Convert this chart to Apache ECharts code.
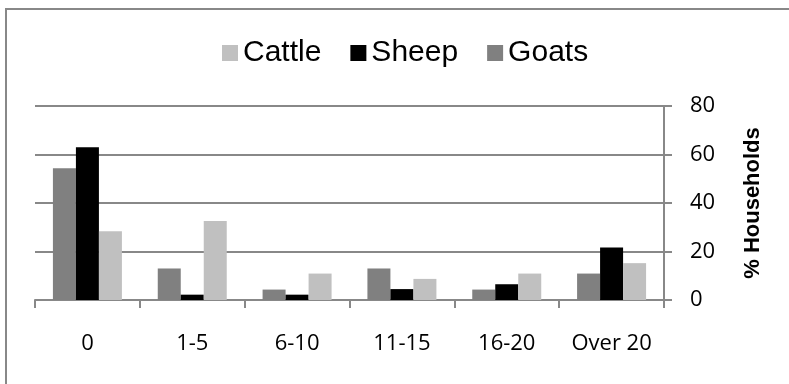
<!DOCTYPE html>
<html lang="en">
<head>
    <meta charset="UTF-8">
    <title>Livestock ownership</title>
    <script src="https://cdn.jsdelivr.net/npm/echarts@6/dist/echarts.min.js"></script>
    <style>
        html, body { margin: 0; padding: 0; background: #fff; }
        .chart { width: 789px; height: 384px; }
    </style>
</head>
<body>
<div class="chart"></div>

<script>
    // herd size groups
    const categories = ['0', '1-5', '6-10', '11-15', '16-20', 'Over 20'];

    // % of households per group
    const goats = [54.3, 13.0, 4.3, 13.0, 4.3, 10.9];
    const sheep = [63.0, 2.2, 2.2, 4.5, 6.5, 21.7];
    const cattle = [28.3, 32.6, 10.9, 8.7, 10.9, 15.2];

    const legendOrder = ['Cattle', 'Sheep', 'Goats'];

    let chart = echarts.init(document.querySelector('.chart'));

    const lineColor = '#888888';
    const labelFont = '"Open Sans", sans-serif';

    chart.setOption({
        backgroundColor: '#ffffff',
        animation: false,
        graphic: [
            {
                // outer frame, only left and top edges fall inside the picture
                type: 'rect',
                shape: { x: 6, y: 9, width: 820, height: 420 },
                style: { fill: 'none', stroke: lineColor, lineWidth: 2 }
            }
        ],
        legend: {
            data: legendOrder,
            left: 217,
            top: 33,
            itemWidth: 16,
            itemHeight: 16,
            itemGap: 29,
            icon: 'rect',
            textStyle: {
                fontFamily: '"Liberation Sans", Arial, sans-serif',
                fontSize: 30,
                color: '#000'
            }
        },
        grid: {
            left: 35,
            right: 125,
            top: 106,
            bottom: 84
        },
        xAxis: {
            type: 'category',
            data: categories,
            axisLine: { lineStyle: { color: lineColor, width: 2 } },
            axisTick: { show: true, length: 8, lineStyle: { color: lineColor, width: 2 } },
            axisLabel: {
                margin: 33,
                fontFamily: labelFont,
                fontSize: 22,
                color: '#000'
            }
        },
        yAxis: {
            type: 'value',
            position: 'right',
            min: 0,
            max: 80,
            interval: 20,
            name: '% Households',
            nameLocation: 'middle',
            nameRotate: 90,
            nameGap: 78,
            nameTextStyle: {
                fontFamily: '"Liberation Sans", Arial, sans-serif',
                fontWeight: 'bold',
                fontSize: 22,
                color: '#000'
            },
            axisLine: { show: true, lineStyle: { color: lineColor, width: 2 } },
            axisTick: { show: true, length: 8, lineStyle: { color: lineColor, width: 2 } },
            axisLabel: {
                margin: 26,
                fontFamily: labelFont,
                fontSize: 22,
                color: '#000'
            },
            splitLine: { lineStyle: { color: lineColor, width: 2 } }
        },
        series: [
            {
                name: 'Goats',
                type: 'bar',
                barWidth: 23,
                barGap: '0%',
                itemStyle: { color: '#808080' },
                data: goats
            },
            {
                name: 'Sheep',
                type: 'bar',
                barWidth: 23,
                barGap: '0%',
                itemStyle: { color: '#000000' },
                data: sheep
            },
            {
                name: 'Cattle',
                type: 'bar',
                barWidth: 23,
                barGap: '0%',
                itemStyle: { color: '#c0c0c0' },
                data: cattle
            }
        ]
    });
</script>
</body>
</html>
